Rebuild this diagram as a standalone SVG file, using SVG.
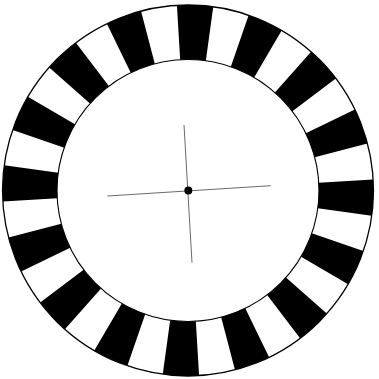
<svg xmlns="http://www.w3.org/2000/svg" xmlns:xlink="http://www.w3.org/1999/xlink" width="379" height="379" viewBox="0 0 379 379">
  <defs>
    <path id="seg" d="M -18.183 -184.606 A 185.5 185.5 0 0 1 18.183 -184.606 L 12.841 -130.369 A 131 131 0 0 0 -12.841 -130.369 Z" fill="#000"/>
  </defs>
  <style>
    .ring { fill: none; stroke: #000; }
    .cross { stroke: #6a6a6a; stroke-width: 1; fill: none; }
  </style>
  <rect width="379" height="379" fill="#fff"/>
  <g id="wheel" transform="translate(188,190.5)">
    <use href="#seg" transform="rotate(2.2)"/>
    <use href="#seg" transform="rotate(24.7)"/>
    <use href="#seg" transform="rotate(47.2)"/>
    <use href="#seg" transform="rotate(69.7)"/>
    <use href="#seg" transform="rotate(92.2)"/>
    <use href="#seg" transform="rotate(114.7)"/>
    <use href="#seg" transform="rotate(137.2)"/>
    <use href="#seg" transform="rotate(159.7)"/>
    <use href="#seg" transform="rotate(182.2)"/>
    <use href="#seg" transform="rotate(204.7)"/>
    <use href="#seg" transform="rotate(227.2)"/>
    <use href="#seg" transform="rotate(249.7)"/>
    <use href="#seg" transform="rotate(272.2)"/>
    <use href="#seg" transform="rotate(294.7)"/>
    <use href="#seg" transform="rotate(317.2)"/>
    <use href="#seg" transform="rotate(339.7)"/>
    <circle class="ring" r="185.5" stroke-width="1.3"/>
    <circle class="ring" r="131" stroke-width="1.1"/>
  </g>
  <g id="crosshair">
    <line class="cross" x1="184" y1="125" x2="192" y2="262.7"/>
    <line class="cross" x1="107.3" y1="196" x2="270.7" y2="185.7"/>
    <circle cx="188.3" cy="190.4" r="4" fill="#000"/>
  </g>
</svg>
